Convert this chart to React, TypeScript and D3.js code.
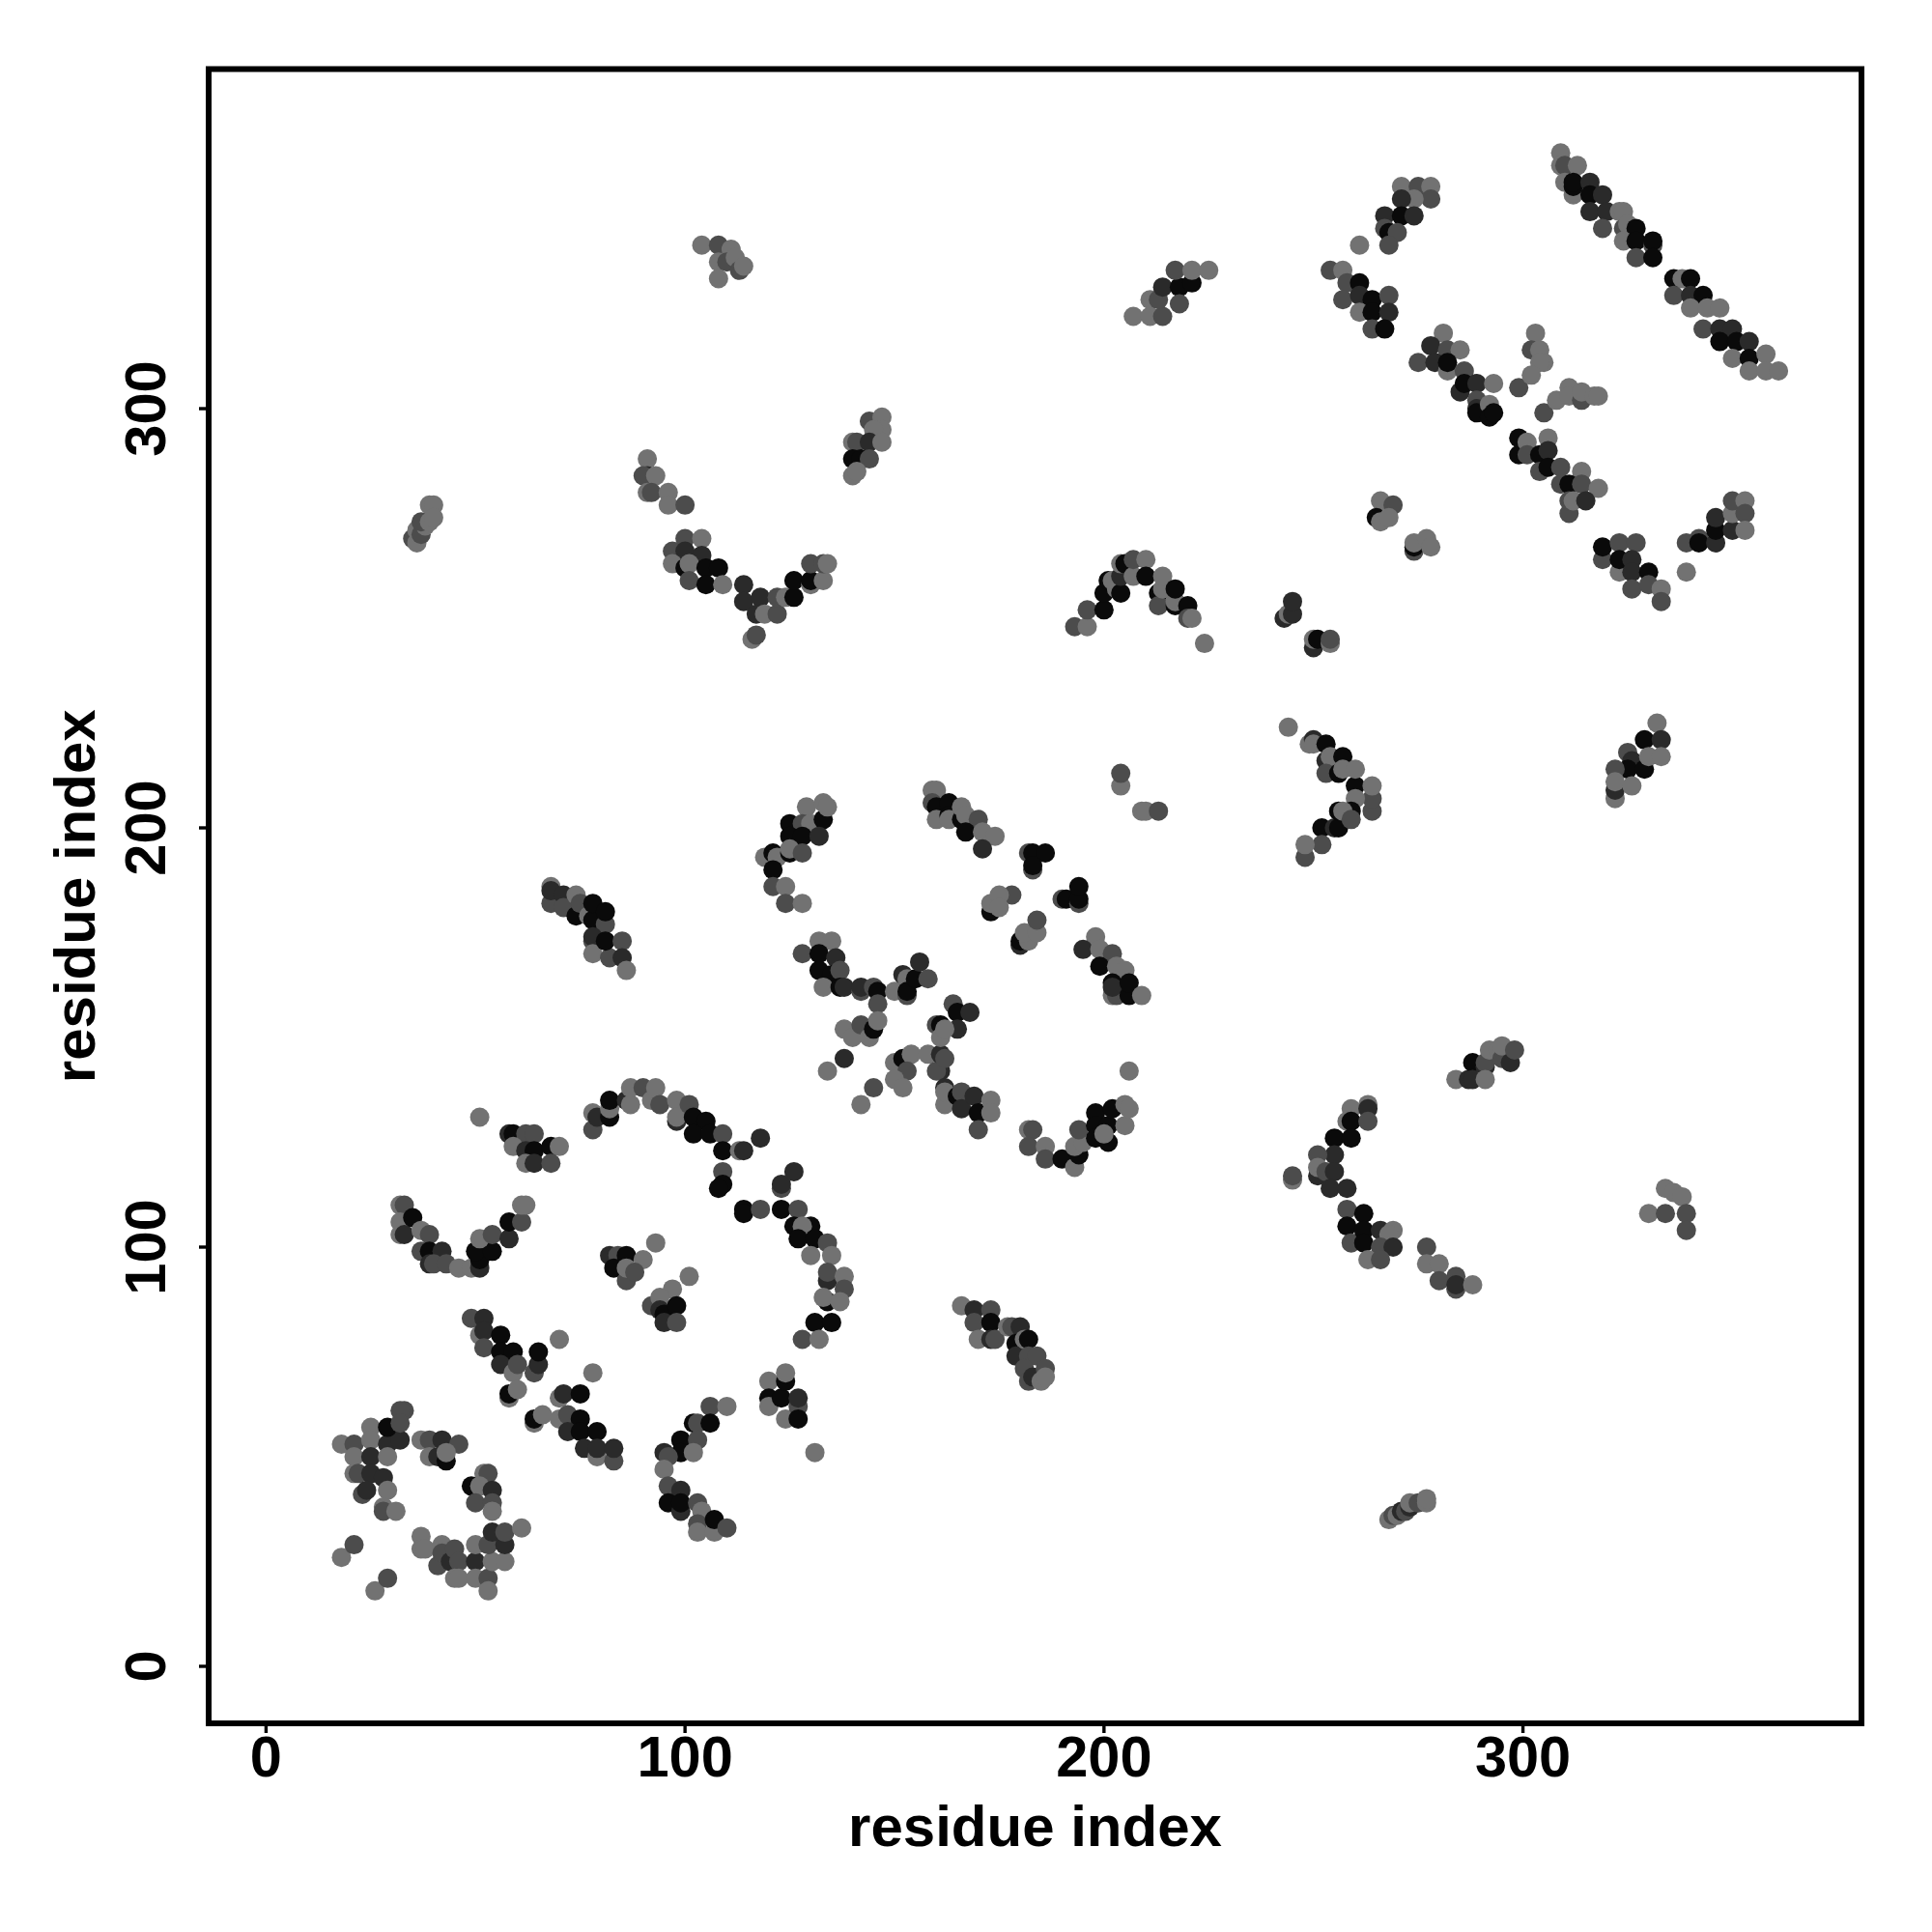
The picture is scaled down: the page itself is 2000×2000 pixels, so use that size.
import React from "react";
import * as d3 from "d3";

// each contact: [residue i, residue j, shade index]
const shades = ["#0a0a0a", "#2a2a2a", "#4c4c4c", "#727272"];
const tickValues = [0, 100, 200, 300];
const axisTitle = "residue index";

const ringSW = [[18,53,3],[21,53,2],[21,50,3],[25,57,3],[25,54,3],[25,50,1],[29,53,1],[32,54,1],[29,50,3],[29,57,0],[33,61,2],[32,61,2],[32,58,2],[21,46,3],[22,46,2],[25,46,1],[28,45,1],[23,41,2],[24,42,1],[29,42,3],[28,38,3],[28,37,2],[31,37,3],
[37,54,3],[39,54,2],[42,54,1],[46,53,2],[39,50,3],[41,50,1],[43,49,0],[43,51,3],[52,46,3],[53,46,2],[49,43,0],[51,43,3],[54,42,1],[50,39,2],[54,39,2],[54,37,3],
[37,31,3],[37,28,3],[38,28,3],[42,29,3],[41,24,2],[42,27,2],[44,25,1],[45,28,2],[46,25,2],[45,21,3],[46,21,3],[50,25,1],[50,21,3],[53,21,2],[53,18,3],[50,29,3],[54,25,3],[57,25,3],[53,29,2],[54,32,1],[57,29,1],[57,32,2],[61,33,3],[18,26,3],[21,29,2],[26,18,3],[29,21,2]];

const bowlLeft = [[32,110,3],[33,110,2],[32,106,3],[32,103,3],[33,103,1],[35,107,0],[37,104,3],[39,103,2],[37,99,2],[39,99,0],[42,99,1],[39,96,1],[40,96,2],[43,96,2],[46,95,3],[49,95,3],[51,95,1],[51,97,0],[50,99,0],[54,99,0],[51,102,3],[54,103,2],[58,102,1],[58,106,0],[61,106,2],[61,110,3],[62,110,3]];

const patchC = [[51,131,3],[58,127,1],[59,127,0],[62,127,2],[64,127,2],[59,124,3],[62,123,1],[64,123,0],[68,124,0],[70,124,3],[62,120,3],[64,120,1],[68,120,2]];

const arcD = [[78,132,3],[78,128,2],[79,131,1],[82,131,0],[82,133,3],[82,135,0],[86,135,1],[87,134,3],[87,138,3],[90,138,2],[92,135,3],[93,138,3],[94,134,2],[98,135,3],[98,130,1],[98,131,3],[101,134,2],[102,131,0],[105,130,0],[102,127,0],[106,127,0],[109,127,2],[109,123,0],[113,123,3],[114,123,1],[118,126,1],[109,118,2],[109,115,0],[108,114,0],[114,109,0],[114,108,0],[118,109,2],[123,114,2],[123,115,1],[126,118,1],[123,109,0],[127,109,2],[126,105,0],[130,105,0],[128,105,3],[127,102,0],[131,102,0],[134,101,2],[130,98,3],[135,98,3],[134,92,1],[134,94,2],[138,93,3],[138,90,2],[134,87,0],[133,88,3],[137,87,3],[131,82,0],[135,82,0],[128,78,2],[132,78,3]];

const patchE = [[93,101,3],[82,98,1],[84,98,2],[86,98,0],[83,95,0],[90,97,3],[86,92,2],[86,95,3],[88,94,2],[101,93,3],[97,90,3],[92,86,2],[94,88,3],[94,85,1],[95,84,0],[98,86,0],[95,82,1],[98,82,2]];

const crossF = [[49,83,2],[52,83,1],[51,79,3],[52,80,1],[56,79,0],[52,76,2],[56,75,0],[59,75,0],[56,72,1],[59,70,3],[60,72,2],[64,70,2],[65,72,1],[65,75,0],[70,78,3],[78,70,3],[58,64,3],[58,65,0],[60,66,3],[70,64,3],[71,65,1],[75,65,0],[64,58,3],[64,59,0],[66,60,3],[70,59,3],[72,60,2],[75,59,0],[72,56,1],[75,56,0],[79,56,0],[76,52,1],[79,50,3],[79,52,1],[83,49,2],[83,52,1]];

const arcG = [[106,62,2],[110,62,3],[102,58,0],[103,58,2],[106,58,0],[99,54,0],[103,54,2],[99,51,0],[102,51,3],[95,51,1],[96,50,2],[95,47,3],[96,43,2],[99,42,1],[96,39,0],[99,37,1],[99,39,0],[103,39,2],[104,37,3],[103,34,2],[103,32,3],[107,32,3],[107,35,0],[110,33,2]];

const patchH = [[120,68,3],[120,64,0],[120,62,3],[124,59,3],[123,64,0],[124,68,0],[124,70,3],[127,62,2],[127,64,1],[127,59,0],[131,51,3]];

const stripI = [[68,186,3],[68,182,2],[68,185,1],[71,184,1],[71,181,2],[74,184,3],[74,179,0],[75,182,2],[77,179,3],[78,178,0],[78,182,0],[81,177,2],[81,180,0],[78,173,2],[78,174,1],[78,170,3],[82,169,2],[81,173,0],[85,173,2],[85,169,1],[86,166,3]];

const hookK = [[129,205,3],[125,201,0],[128,201,2],[130,201,3],[133,202,0],[133,206,3],[134,205,3],[125,198,0],[128,198,0],[132,198,1],[119,193,3],[121,194,0],[122,193,3],[125,194,0],[125,195,3],[128,194,2],[121,190,0],[121,186,2],[124,186,3],[124,182,2],[128,182,3]];

const crossQ = [[128,170,2],[132,173,3],[135,173,3],[132,170,0],[136,169,1],[132,166,0],[135,165,0],[137,166,2],[133,162,3],[137,162,0],[138,162,1],[142,161,2],[142,162,1],[145,162,2],[146,161,0],[146,158,2],[150,161,3],[152,165,1],[153,164,3],[153,160,2],[153,161,0],[155,164,0],[156,168,1],[158,164,2],
[138,152,3],[140,150,3],[142,153,2],[144,150,3],[145,152,0],[146,154,3],[138,145,1],[134,142,3],[145,138,2],[142,134,3],
[150,144,3],[152,145,0],[154,146,3],[153,142,2],[150,140,3],[152,138,3],[158,146,3],[161,142,1],[160,142,2],[161,146,1],[162,145,2],
[164,158,2],[165,156,0],[168,156,1],[160,153,2],[161,153,0],[165,152,1],[161,150,3],[162,152,3],
[162,138,1],[162,134,3],[162,137,3],[165,136,0],[166,137,2],[166,133,1],[169,136,1],[170,132,0],[173,135,3],[173,132,3],[170,128,2]];

const curveBottom = [[182,128,3],[183,128,2],[182,124,2],[186,124,3],[186,121,2],[190,121,0],[193,119,3],[194,122,0],[193,124,3],[195,125,3],[194,128,2],[198,132,0],[198,129,0],[198,126,0],[201,125,0],[201,129,0],[200,127,3],[202,133,0],[205,129,3],[205,134,3],[206,133,3],[206,142,3]];

const stripM = [[159,209,3],[160,209,3],[159,206,2],[160,205,0],[160,202,3],[163,206,0],[163,203,0],[163,202,3],[166,202,0],[166,205,3],[167,203,3],[170,202,2],[167,199,0],[171,199,3],[174,198,3],[171,195,1]];

const patchesN = [[204,210,3],[204,213,2],[209,204,3],[210,204,3],[213,204,2]];

const patchesO = [[182,194,2],[183,194,0],[186,194,0],[183,190,2],[183,191,0],[178,184,2],[173,180,0],[173,182,3],[175,184,3],[175,181,3],[190,183,2],[191,183,0],[194,182,2],[194,183,0],[194,186,0],[180,172,1],[180,173,0],[182,173,3],[181,175,3],[184,175,3],[184,178,2]];

const stripP = [[198,174,3],[195,171,1],[199,171,3],[202,170,2],[199,167,0],[203,167,3],[205,166,3],[202,163,0],[202,160,3],[203,160,2],[202,162,1],[206,160,0],[206,163,0],[209,160,3]];

const patchLower = [[166,86,3],[169,85,1],[173,85,2],[169,82,2],[173,82,0],[170,78,3],[173,78,1],[174,78,2],[177,81,3],[178,81,2],[180,81,1],[179,77,0],[179,74,1],[181,78,3],[182,78,0],[182,74,2],[184,74,2],[181,71,2],[182,68,2],[183,69,1],[186,71,2],[185,68,3],[186,69,3]];

const patchBottomRight = [[268,35,3],[269,36,2],[270,36,3],[271,37,1],[272,37,2],[273,38,1],[273,39,3],[275,39,2],[277,39,3],[277,40,3]];

const patchFarRight = [[330,108,3],[334,114,3],[334,108,2],[336,113,3],[338,112,3],[339,108,2],[339,104,2]];

const stripLow = [[277,100,2],[277,96,3],[280,96,3],[280,92,2],[284,90,2],[284,93,2],[284,91,1],[288,91,3]];

const chevron = [[259,133,3],[263,134,3],[263,133,1],[258,130,3],[259,130,0],[263,130,2],[255,126,0],[259,126,0],[255,122,1],[251,122,2],[251,117,1],[251,119,3],[253,118,2],[255,118,1],[245,116,3],[245,117,2],[254,114,1],[258,114,1],[258,109,2],[262,108,0],[258,105,0],[259,101,2],[262,104,0],[262,101,0],[266,104,1],[269,104,3],[268,103,3],[266,100,2],[269,100,1],[263,97,3],[266,97,2]];

const patch145 = [[284,140,3],[287,140,1],[288,144,0],[288,140,1],[291,143,1],[291,144,2],[291,140,3],[292,147,3],[294,147,3],[295,145,2],[295,148,3],[297,144,1],[298,147,2]];

const patch215 = [[332,225,3],[325,218,2],[326,216,1],[325,214,0],[329,214,0],[329,221,0],[333,221,1],[330,217,3],[333,217,3],[322,214,2],[322,207,3],[322,209,1],[322,211,3],[326,210,3]];

const paren = [[244,224,3],[249,220,3],[250,221,1],[250,220,3],[253,220,0],[253,216,1],[254,217,3],[257,217,0],[253,213,2],[256,213,0],[257,214,3],[260,210,0],[260,214,3],[264,204,2],[264,207,2],[264,210,3],[260,207,3],[252,200,0],[255,200,1],[256,200,0],[259,204,0],[256,204,0],[257,204,3],[259,202,2],[252,196,2],[248,193,2],[248,196,3]];

const arch = [[193,248,2],[196,248,3],[196,252,2],[200,252,0],[200,256,0],[201,259,0],[202,259,3],[203,257,3],[204,256,0],[204,260,1],[204,263,3],[205,263,0],[207,260,3],[207,264,2],[210,264,3],[210,260,0],[213,256,0],[213,253,2],[214,257,3],[214,260,3],[217,253,0],[217,254,3],[217,257,0],[220,253,0],[220,250,2],[221,250,3],[224,244,3]];

const bowlTop = [[91,288,3],[91,284,1],[90,284,2],[93,284,3],[91,280,3],[92,280,2],[96,280,3],[96,277,3],[100,277,2],[100,269,2],[97,266,2],[100,266,1],[97,263,3],[104,269,3],[104,265,1],[100,262,0],[101,263,3],[105,262,0],[108,262,0],[101,259,2],[105,258,0],[109,258,3],[114,258,1],[114,254,1],[118,255,1],[117,251,1],[119,251,3],[122,251,2],[122,255,2],[116,245,3],[117,246,2],[124,255,3],[126,255,0],[126,259,0],[130,258,3],[130,259,0],[130,263,2],[133,259,3],[133,263,2],[134,263,3]];

const patch290 = [[144,297,2],[147,298,3],[147,295,3],[145,295,3],[140,292,3],[141,292,2],[144,292,1],[147,292,3],[140,288,0],[142,288,0],[144,288,2],[140,284,3],[141,285,3]];

const patch270 = [[35,269,2],[36,268,3],[36,271,3],[37,270,2],[38,272,3],[37,273,2],[39,273,3],[39,277,3],[40,277,3],[40,274,3]];

const patch335 = [[104,339,3],[108,339,2],[111,338,3],[108,335,3],[110,335,2],[112,336,3],[113,333,2],[114,334,3],[108,331,3]];

const patch325 = [[207,322,3],[211,322,3],[214,322,2],[211,326,3],[213,326,2],[214,329,1],[218,329,0],[218,325,2],[221,330,0],[217,333,2],[221,333,3],[225,333,3]];

const clusterR = [[271,353,3],[275,353,2],[278,353,3],[278,350,2],[274,350,3],[271,350,1],[267,346,1],[271,346,0],[274,346,1],[267,343,2],[268,342,0],[270,342,2],[268,339,2],[261,339,3]];

const clusterS = [[254,333,2],[257,333,3],[258,330,2],[261,330,0],[257,326,2],[261,327,1],[264,326,0],[268,327,2],[261,323,3],[264,323,0],[268,323,1],[264,319,2],[267,319,0]];

const clusterT = [[281,318,3],[278,315,1],[282,314,2],[285,314,3],[275,311,2],[279,311,1],[282,309,3],[282,311,0],[286,309,2],[285,304,1],[286,306,0],[289,306,1],[293,306,3],[289,302,2],[289,300,1],[289,299,0],[292,301,3],[292,298,0],[293,299,0]];

const clusterV = [[299,289,0],[299,293,0],[301,292,3],[301,289,2],[306,293,3],[304,289,0],[306,290,1],[304,285,2],[306,286,0],[309,286,2],[314,285,3],[309,282,2],[311,282,0],[314,282,2],[318,281,3],[311,275,2],[311,278,2],[312,278,3],[315,278,1],[299,305,2],[305,299,2]];

const lightArcs = [[303,318,3],[302,314,2],[304,314,3],[305,311,3],[304,311,3],[302,308,3],[308,302,3],[311,305,3],[311,303,3],[314,302,2],[314,304,3],[317,303,3],[318,303,3]];

const diagonalA = [[309,361,3],[309,358,3],[310,358,2],[310,354,3],[313,358,3],[312,351,3],[312,353,0],[312,354,0],[316,354,1],[316,351,0],[319,351,1],[316,347,1],[320,347,1],[323,347,3],[324,347,3],[319,343,2],[324,343,2],[325,344,3],[327,343,0],[324,340,3],[327,340,0],[331,339,2],[331,340,0],[327,336,2],[331,336,0]];

const diagonalB = [[336,331,0],[338,331,3],[340,331,0],[336,327,2],[340,327,1],[343,327,0],[340,324,3],[344,324,3],[347,324,3],[343,319,2],[347,319,1],[350,319,1],[347,316,0],[351,316,0],[354,316,1],[350,312,3],[354,312,0],[354,309,3],[358,313,3],[358,309,3],[361,309,3]];

const patches275 = [[266,278,3],[269,277,2],[265,274,0],[266,273,3],[268,274,3],[274,266,2],[274,267,0],[274,268,3],[277,269,3],[278,267,3]];

const clusterW = [[319,264,2],[319,267,0],[323,268,2],[327,268,2],[323,261,3],[323,264,0],[326,264,1],[326,261,1],[330,261,0],[326,257,2],[330,258,2],[333,257,3],[333,254,2],[339,261,3],[339,268,2],[342,269,2],[342,268,0],[346,268,1],[346,271,0],[346,274,1],[350,271,1],[350,275,3],[350,278,2],[353,278,3],[353,275,2],[353,271,3]];

const patches250 = [[243,250,1],[244,251,3],[245,251,1],[245,254,1],[250,243,1],[250,245,3],[251,245,0],[254,244,3],[254,245,2]];

const allContacts = [
  ringSW, bowlLeft, patchC, arcD, patchE, crossF, arcG, patchH, stripI, hookK, crossQ, curveBottom,
  stripM, patchesN, patchesO, stripP, patchLower, patchBottomRight, patchFarRight, stripLow, chevron,
  patch145, patch215, paren, arch, bowlTop, patch290, patch270, patch335, patch325, clusterR, clusterS,
  clusterT, clusterV, lightArcs, diagonalA, diagonalB, patches275, clusterW, patches250,
].flat();

const FRAME = { left: 216, right: 1927, top: 71.5, bottom: 1784 };
const FONT = "'Liberation Sans', Arial, sans-serif";

export default function App() {
  const x = d3.scaleLinear().domain([-13.7, 380.8]).range([FRAME.left, FRAME.right]);
  const y = d3.scaleLinear().domain([-13.6, 381]).range([FRAME.bottom, FRAME.top]);
  const tickStyle = { fontFamily: FONT, fontWeight: 700, fontSize: 59.5, fill: "#000" } as const;
  const titleStyle = { ...tickStyle, fontSize: 60 } as const;
  return (
    <svg width={2000} height={2000} style={{ position: "absolute", left: 0, top: 0, display: "block", background: "#fff" }}>
      <g>
        {allContacts.map((c, i) => (
          <circle key={i} cx={x(c[0])} cy={y(c[1])} r={10} fill={shades[c[2]]} />
        ))}
      </g>
      <rect x={FRAME.left} y={FRAME.top} width={FRAME.right - FRAME.left} height={FRAME.bottom - FRAME.top} fill="none" stroke="#000" strokeWidth={6} />
      {tickValues.map((t) => (
        <g key={t}>
          <line x1={x(t)} x2={x(t)} y1={FRAME.bottom} y2={FRAME.bottom + 10} stroke="#000" strokeWidth={3.4} />
          <line x1={FRAME.left - 10} x2={FRAME.left} y1={y(t)} y2={y(t)} stroke="#000" strokeWidth={3.4} />
          <text x={x(t)} y={1839} textAnchor="middle" {...tickStyle}>{t}</text>
          <text transform={`translate(171,${y(t)}) rotate(-90)`} textAnchor="middle" {...tickStyle}>{t}</text>
        </g>
      ))}
      <text x={(FRAME.left + FRAME.right) / 2} y={1911} textAnchor="middle" {...titleStyle}>{axisTitle}</text>
      <text transform={`translate(98,${(FRAME.top + FRAME.bottom) / 2}) rotate(-90)`} textAnchor="middle" {...titleStyle}>{axisTitle}</text>
    </svg>
  );
}
